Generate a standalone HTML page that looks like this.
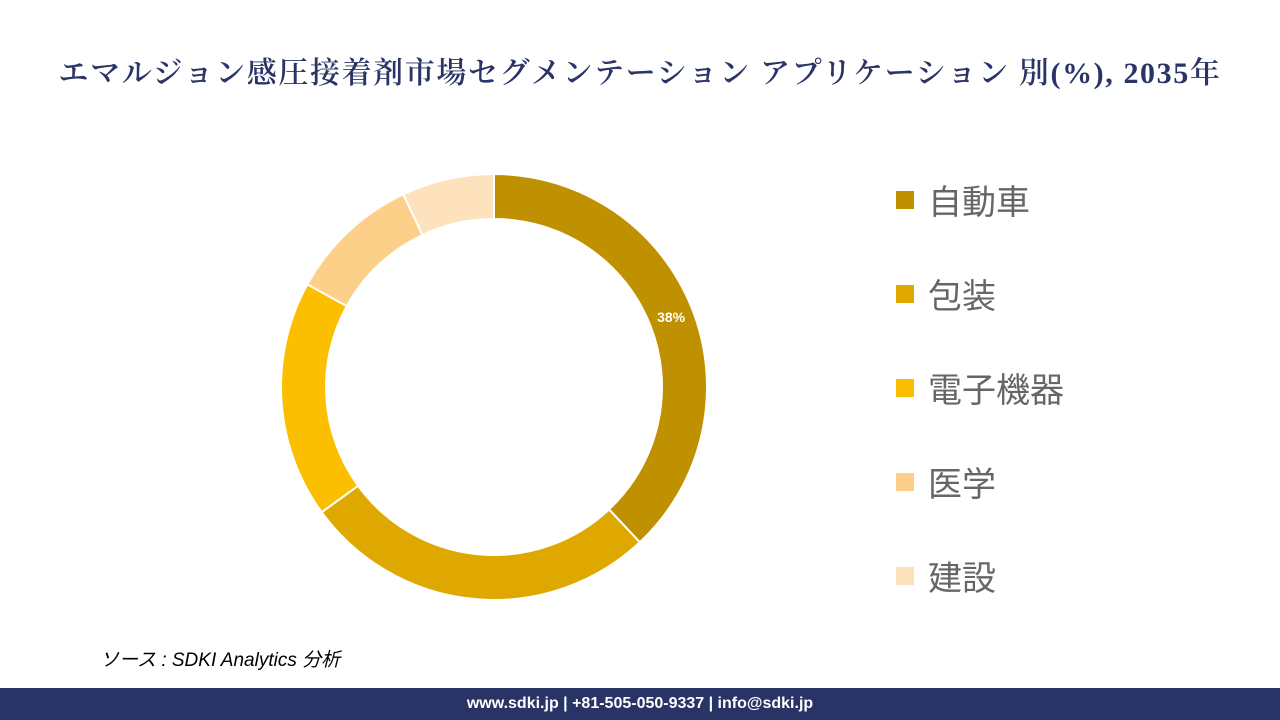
<!DOCTYPE html>
<html><head><meta charset="utf-8"><style>
body{margin:0;width:1280px;height:720px;background:#fff;position:relative;overflow:hidden;font-family:"Liberation Sans","Noto Sans CJK JP",sans-serif}
#title{position:absolute;left:0;width:1280px;top:48px;text-align:center;font-family:"Liberation Serif","Noto Serif CJK SC",serif;font-size:30px;color:#2a3466;white-space:nowrap;letter-spacing:1.6px;font-weight:600}
.leg{position:absolute;left:896px;font-size:34px;color:#666;display:flex;align-items:center}
.leg span.sw{width:18px;height:18px;display:inline-block;margin-right:14px}
#src{position:absolute;left:100px;top:645px;font-size:19px;font-style:italic;color:#000}
#foot{position:absolute;left:0;top:688px;width:1280px;height:32px;background:#283466;color:#fff;font-weight:bold;font-size:16px;text-align:center;line-height:32px}
</style></head><body>
<div id="title">エマルジョン感圧接着剤市場セグメンテーション アプリケーション 別(%), 2035年</div>
<svg id="chart" width="1280" height="720" style="position:absolute;left:0;top:0"></svg>
<div id="legend"></div>
<div id="src">ソース : SDKI Analytics 分析</div>
<div id="foot">www.sdki.jp | +81-505-050-9337 | info@sdki.jp</div>
<script>
const categories=["自動車","包装","電子機器","医学","建設"];
const values=[38,27,18,10,7];
const colors=["#bf9000","#dfa800","#fcbf00","#fdd08a","#fde2bd"];
const cx=494,cy=387,R=213,r=168;
const svg=document.getElementById('chart');
const NS="http://www.w3.org/2000/svg";
const total=values.reduce((a,b)=>a+b,0);
function pt(a,rad){return [cx+rad*Math.sin(a),cy-rad*Math.cos(a)];}
let acc=0;
values.forEach((v,i)=>{
  const a0=acc/total*2*Math.PI;acc+=v;const a1=acc/total*2*Math.PI;
  const lg=(a1-a0)>Math.PI?1:0;
  const [x0,y0]=pt(a0,R),[x1,y1]=pt(a1,R),[x2,y2]=pt(a1,r),[x3,y3]=pt(a0,r);
  const p=document.createElementNS(NS,'path');
  p.setAttribute('d',`M${x0},${y0}A${R},${R} 0 ${lg} 1 ${x1},${y1}L${x2},${y2}A${r},${r} 0 ${lg} 0 ${x3},${y3}Z`);
  p.setAttribute('fill',colors[i]);p.setAttribute('stroke','#fff');p.setAttribute('stroke-width','2');
  
  
  svg.appendChild(p);
  if(i===0){
    const m=(a0+a1)/2;const [tx,ty]=pt(m,(R+r)/2);
    const t=document.createElementNS(NS,'text');
    t.setAttribute('x',tx);t.setAttribute('y',ty+5);t.setAttribute('text-anchor','middle');
    t.setAttribute('fill','#fff');t.setAttribute('font-size','14');t.setAttribute('font-weight','bold');
    t.setAttribute('font-family','Liberation Sans, sans-serif');
    t.textContent=v+'%';
    
    
    svg.appendChild(t);
  }
});
const lg=document.getElementById('legend');
categories.forEach((c,i)=>{
  const d=document.createElement('div');d.className='leg';d.style.top=(175+i*94)+'px';
  d.innerHTML='<span class="sw" style="background:'+colors[i]+'"></span>'+c;
  
  
  lg.appendChild(d);
});
</script>
</body></html>
